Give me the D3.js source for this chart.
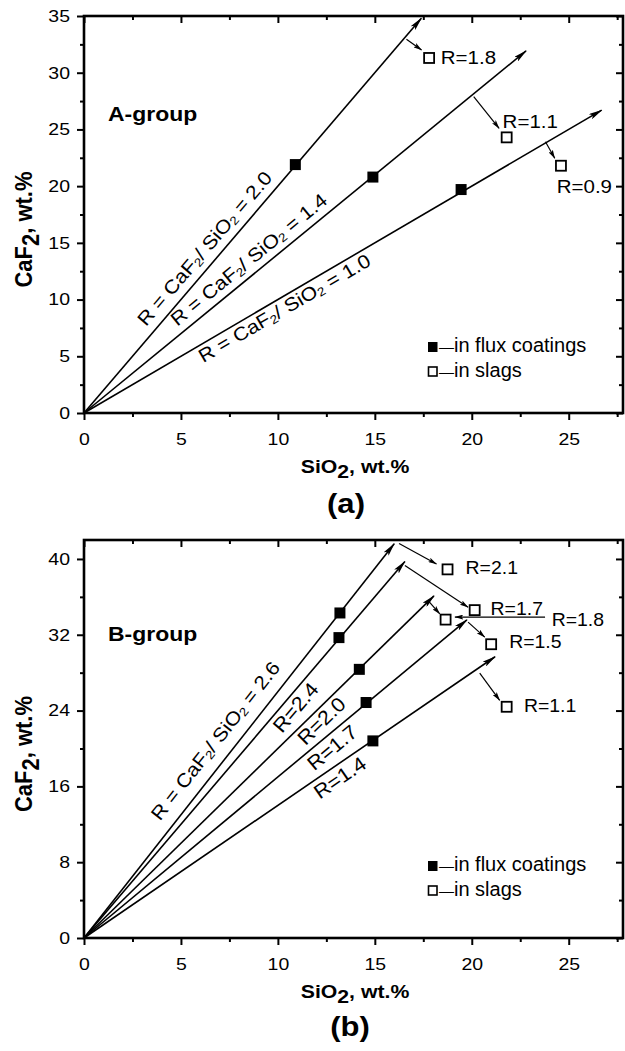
<!DOCTYPE html>
<html><head><meta charset="utf-8">
<script src="https://cdn.jsdelivr.net/npm/d3@7/dist/d3.min.js"></script>
<style>
body{margin:0;background:#fff}
svg{display:block}
text{font-family:"Liberation Sans",Arial,sans-serif;fill:#000}
</style>
</head><body>
<svg id="c" width="625" height="1051"></svg>
<script>
// ---------------- DATA ----------------
const xMajor = [0, 5, 10, 15, 20, 25];
const xMinor = [2.5, 7.5, 12.5, 17.5, 22.5, 27.5];
const yMajorA = [0, 5, 10, 15, 20, 25, 30, 35];
const yMinorA = [2.5, 7.5, 12.5, 17.5, 22.5, 27.5, 32.5];
const yMajorB = [0, 8, 16, 24, 32, 40];
const yMinorB = [4, 12, 20, 28, 36];

// Panel (a) – A-group
const ratiosA   = [2.0, 1.4, 1.0];
const rayEndXA  = [17.4, 22.8, 26.7];
const fluxA_SiO2 = [10.9, 14.9, 19.45];
const fluxA_CaF2 = [21.9, 20.8, 19.7];
const slagA_SiO2 = [17.8, 21.8, 24.6];
const slagA_CaF2 = [31.3, 24.3, 21.8];
const slagA_labels = ["R=1.8", "R=1.1", "R=0.9"];

// Panel (b) – B-group
const ratiosB   = [2.6, 2.4, 2.0, 1.7, 1.4];
const rayEndXB  = [16.0, 16.55, 18.05, 19.75, 21.2];
const fluxB_SiO2 = [13.2, 13.15, 14.2, 14.55, 14.9];
const fluxB_CaF2 = [34.3, 31.7, 28.35, 24.85, 20.8];
const slagB_SiO2 = [18.75, 20.15, 18.65, 21.0, 21.8];
const slagB_CaF2 = [38.9, 34.6, 33.6, 31.0, 24.4];
const slagB_labels = ["R=2.1", "R=1.7", "R=1.8", "R=1.5", "R=1.1"];

// ---------------- ANNOTATION PLACEMENT (data coords) ----------------
const rayLabelA = [
  {r:2.0, x:3.2,  y:7.58, full:true},
  {r:1.4, x:4.81, y:7.61, full:true},
  {r:1.0, x:6.15, y:4.38, full:true}
];
const slagLabelPosA = [[18.4, 30.78], [21.59, 25.16], [24.38, 19.43]];
const arrowsA = [
  [[16.63, 32.95], [17.41, 32.0]],
  [[20.10, 27.89], [21.41, 25.1]],
  [[23.8, 23.92], [24.28, 22.46]]
];
const rayLabelB = [
  {r:2.6, x:3.92,  y:12.27, full:true},
  {r:2.4, x:10.21, y:21.52, full:false},
  {r:2.0, x:11.42, y:20.24, full:false},
  {r:1.7, x:11.88, y:17.57, full:false},
  {r:1.4, x:12.16, y:14.59, full:false}
];
const slagLabelPosB = [[19.68, 38.45], [20.97, 34.12], [24.12, 32.96], [21.93, 30.6], [22.69, 23.81]];
const arrowsB = [
  [[16.25, 41.64], [18.18, 39.47]],
  [[16.55, 39.3], [19.81, 34.9]],
  [[17.75, 35.6], [18.35, 34.2]],
  [[19.81, 33.33], [20.67, 31.75]],
  [[20.41, 27.96], [21.44, 25.08]]
];
const leaderB = [[23.78, 33.87], [19.13, 33.87]];

// ---------------- DRAW ----------------
const svg = d3.select("#c");
const defs = svg.append("defs");
defs.append("marker").attr("id","bigHead")
  .attr("viewBox","0 0 14 6").attr("refX",13).attr("refY",3)
  .attr("markerWidth",14).attr("markerHeight",6)
  .attr("markerUnits","userSpaceOnUse").attr("orient","auto")
  .append("path").attr("d","M0,0 L14,3 L0,6 L3,3 Z").attr("fill","#000");
defs.append("marker").attr("id","smallHead")
  .attr("viewBox","0 0 9 5").attr("refX",8.5).attr("refY",2.5)
  .attr("markerWidth",9).attr("markerHeight",5)
  .attr("markerUnits","userSpaceOnUse").attr("orient","auto")
  .append("path").attr("d","M0,0 L9,2.5 L0,5 L2,2.5 Z").attr("fill","#000");

const SX = 1.18; // horizontal stretch of tick/title glyphs

function addLabelText(sel, r, full, sub) {
  if (full) {
    sel.append("tspan").text("R = CaF");
    sel.append("tspan").attr("font-size", sub).attr("dy", 2).text("2");
    sel.append("tspan").attr("dy", -2).text("/ SiO");
    sel.append("tspan").attr("font-size", sub).attr("dy", 2).text("2");
    sel.append("tspan").attr("dy", -2).text(" = " + r.toFixed(1));
  } else {
    sel.text("R=" + r.toFixed(1));
  }
}

function drawPanel(cfg) {
  const x = d3.scaleLinear().domain([0, 27.8]).range([84, 623]);
  const y = d3.scaleLinear().domain([0, cfg.yMax]).range([cfg.bottom, cfg.top]);
  const g = svg.append("g");

  // axes
  const fmt = d3.format("d");
  const bx = g.append("g").attr("transform", `translate(0,${cfg.bottom})`);
  bx.call(d3.axisBottom(x).tickValues(xMajor).tickSize(7).tickPadding(13).tickFormat(fmt));
  bx.append("g").call(d3.axisBottom(x).tickValues(xMinor).tickSize(4).tickFormat(""));
  const ly = g.append("g").attr("transform", `translate(84,0)`);
  ly.call(d3.axisLeft(y).tickValues(cfg.yMajor).tickSize(7).tickPadding(4.9).tickFormat(fmt));
  ly.append("g").call(d3.axisLeft(y).tickValues(cfg.yMinor).tickSize(4).tickFormat(""));
  const tx = g.append("g").attr("transform", `translate(0,${cfg.top})`);
  tx.call(d3.axisTop(x).tickValues(xMajor).tickSize(-7).tickFormat(""));
  tx.append("g").call(d3.axisTop(x).tickValues(xMinor).tickSize(-4).tickFormat(""));
  const ry = g.append("g").attr("transform", `translate(623,0)`);
  ry.call(d3.axisRight(y).tickValues(cfg.yMajor).tickSize(-7).tickFormat(""));
  ry.append("g").call(d3.axisRight(y).tickValues(cfg.yMinor).tickSize(-4).tickFormat(""));
  g.selectAll(".domain").remove();
  g.selectAll(".tick line").attr("stroke","#000").attr("stroke-width",2);
  g.selectAll(".tick text").attr("font-size","16.5px").attr("font-family",'"Liberation Sans",Arial,sans-serif')
    .attr("fill","#000").attr("transform", `scale(${SX},1)`);

  g.append("rect").attr("x", x(0)).attr("y", y(cfg.yMax))
    .attr("width", x(27.8) - x(0)).attr("height", y(0) - y(cfg.yMax))
    .attr("fill","none").attr("stroke","#000").attr("stroke-width",2.6);

  // axis titles
  const xt = g.append("text").attr("font-weight","bold").attr("font-size","18px")
    .attr("text-anchor","middle")
    .attr("transform", `translate(355,${cfg.bottom + 60}) scale(${SX},1)`);
  xt.append("tspan").text("SiO");
  xt.append("tspan").attr("dy",5).text("2");
  xt.append("tspan").attr("dy",-5).text(", wt.%");
  const yt = g.append("text").attr("font-weight","bold").attr("font-size","22px")
    .attr("text-anchor","middle")
    .attr("transform", `translate(32,${(cfg.top + cfg.bottom) / 2 + 15}) rotate(-90) scale(1,1.12)`);
  yt.append("tspan").text("CaF");
  yt.append("tspan").attr("dy",6).text("2");
  yt.append("tspan").attr("dy",-6).text(", wt.%");

  // group label
  g.append("text").attr("font-weight","bold").attr("font-size","20.5px")
    .attr("transform", `translate(108,${cfg.groupY}) scale(1.12,1)`).text(cfg.group);

  // rays
  cfg.ratios.forEach((r, i) => {
    const ex = cfg.rayEndX[i];
    g.append("line").attr("x1", x(0)).attr("y1", y(0))
      .attr("x2", x(ex)).attr("y2", y(r * ex))
      .attr("stroke","#000").attr("stroke-width",1.6)
      .attr("marker-end","url(#bigHead)");
  });

  // ray labels
  cfg.rayLabels.forEach(L => {
    const ang = Math.atan2(y(L.r) - y(0), x(1) - x(0)) * 180 / Math.PI;
    const t = g.append("text").attr("font-size", (L.full ? 19 : 20) + "px")
      .attr("transform", `translate(${x(L.x)},${y(L.y)}) rotate(${ang}) scale(${L.full ? 1.12 : 1.08},1)`);
    addLabelText(t, L.r, L.full, "12px");
  });

  // annotation arrows
  cfg.arrows.forEach(a => {
    g.append("line").attr("x1", x(a[0][0])).attr("y1", y(a[0][1]))
      .attr("x2", x(a[1][0])).attr("y2", y(a[1][1]))
      .attr("stroke","#000").attr("stroke-width",1.2)
      .attr("marker-end","url(#smallHead)");
  });
  if (cfg.leader) {
    const a = cfg.leader;
    g.append("line").attr("x1", x(a[0][0])).attr("y1", y(a[0][1]))
      .attr("x2", x(a[1][0])).attr("y2", y(a[1][1]))
      .attr("stroke","#000").attr("stroke-width",1.2)
      .attr("marker-end","url(#smallHead)");
  }

  // flux (filled) markers
  cfg.fluxX.forEach((fx, i) => {
    g.append("rect").attr("x", x(fx) - 5.5).attr("y", y(cfg.fluxY[i]) - 5.5)
      .attr("width", 11).attr("height", 11).attr("fill","#000");
  });
  // slag (open) markers
  cfg.slagX.forEach((sx, i) => {
    g.append("rect").attr("x", x(sx) - 5).attr("y", y(cfg.slagY[i]) - 5)
      .attr("width", 10).attr("height", 10).attr("fill","#fff")
      .attr("stroke","#000").attr("stroke-width",1.8);
  });
  // slag labels
  cfg.slagLabels.forEach((s, i) => {
    const p = cfg.slagLabelPos[i];
    g.append("text").attr("font-size", cfg.slagFont + "px")
      .attr("transform", `translate(${x(p[0])},${y(p[1])}) scale(1.08,1)`).text(s);
  });

  // legend
  const lg = g.append("g");
  lg.append("rect").attr("x", 428).attr("y", cfg.legendY - 5).attr("width", 9.5).attr("height", 10).attr("fill","#000");
  lg.append("rect").attr("x", 428.5).attr("y", cfg.legendY + 20).attr("width", 8.5).attr("height", 9)
    .attr("fill","#fff").attr("stroke","#000").attr("stroke-width",1.6);
  const l1 = lg.append("text").attr("x", 439).attr("y", cfg.legendY + 5).attr("font-size","20px");
  l1.append("tspan").attr("font-size","15px").text("—");
  l1.append("tspan").text("in flux coatings");
  const l2 = lg.append("text").attr("x", 439).attr("y", cfg.legendY + 30).attr("font-size","20px");
  l2.append("tspan").attr("font-size","15px").text("—");
  l2.append("tspan").text("in slags");

  // panel caption
  svg.append("text").attr("font-family",'"Liberation Serif","Times New Roman",serif')
    .attr("font-weight","bold").attr("font-size","27px").attr("text-anchor","middle")
    .attr("transform", `translate(${cfg.capX},${cfg.capY}) scale(1.15,1)`).text(cfg.caption);
}

drawPanel({
  top:16, bottom:413, yMax:35, yMajor:yMajorA, yMinor:yMinorA,
  group:"A-group", groupY:121,
  ratios:ratiosA, rayEndX:rayEndXA, rayLabels:rayLabelA,
  arrows:arrowsA, leader:null,
  fluxX:fluxA_SiO2, fluxY:fluxA_CaF2, slagX:slagA_SiO2, slagY:slagA_CaF2,
  slagLabels:slagA_labels, slagLabelPos:slagLabelPosA, slagFont:19,
  legendY:347, caption:"(a)", capX:346, capY:513
});
drawPanel({
  top:540, bottom:938, yMax:42, yMajor:yMajorB, yMinor:yMinorB,
  group:"B-group", groupY:641,
  ratios:ratiosB, rayEndX:rayEndXB, rayLabels:rayLabelB,
  arrows:arrowsB, leader:leaderB,
  fluxX:fluxB_SiO2, fluxY:fluxB_CaF2, slagX:slagB_SiO2, slagY:slagB_CaF2,
  slagLabels:slagB_labels, slagLabelPos:slagLabelPosB, slagFont:18,
  legendY:866, caption:"(b)", capX:350, capY:1036
});
</script>
</body></html>
